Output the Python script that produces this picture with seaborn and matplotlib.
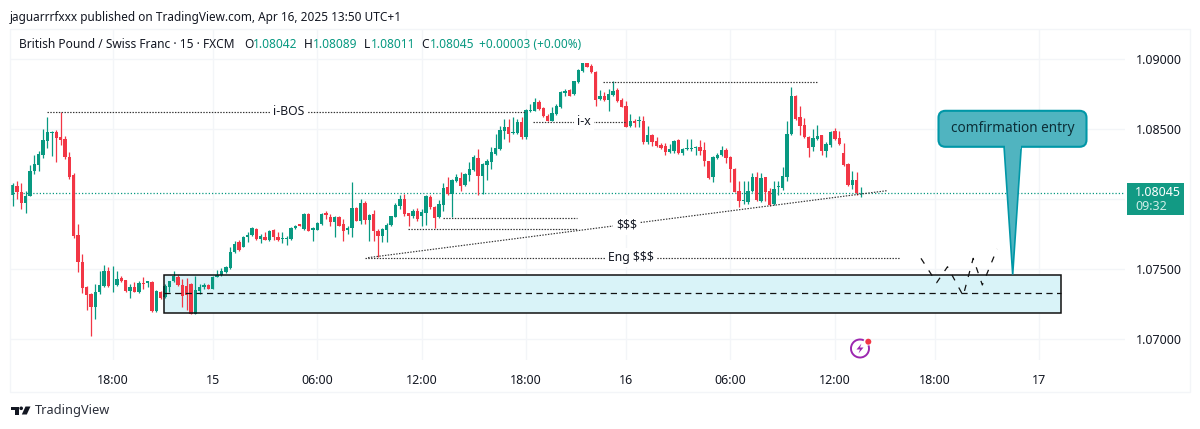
import matplotlib
matplotlib.use("Agg")
import matplotlib.pyplot as plt
from matplotlib.patches import Rectangle, Polygon, FancyBboxPatch, Circle, Arc
import numpy as np
import pandas as pd
import seaborn as sns

# GBP/CHF 15-minute bars, quoted in points above 1.00000
OPEN_PTS = [
    8031,8095,8048,7969,8019,8198,8245,8317,8412,8474,
    8476,8440,8426,8302,8174,7745,7548,7369,7321,7226,
    7333,7379,7483,7390,7388,7433,7421,7340,7374,7333,
    7398,7402,7410,7198,7336,7298,7374,7412,7445,7388,
    7381,7393,7179,7340,7374,7386,7357,7440,7455,7476,
    7507,7619,7690,7660,7726,7745,7786,7714,7731,7707,
    7781,7731,7712,7714,7714,7790,7821,7786,7893,7781,
    7781,7819,7898,7869,7833,7874,7821,7779,7790,7933,
    7845,7969,7852,7893,7774,7738,7781,7814,7874,7952,
    8000,7898,7876,7917,7876,7900,8012,7940,7869,7960,
    8083,8036,8126,8150,8100,8171,8207,8293,8167,8245,
    8267,8321,8357,8488,8512,8469,8471,8548,8440,8626,
    8631,8690,8650,8595,8560,8607,8655,8757,8781,8750,
    8833,8912,8969,8952,8910,8714,8738,8707,8743,8776,
    8707,8664,8521,8560,8557,8560,8405,8457,8417,8388,
    8379,8336,8345,8421,8331,8357,8357,8367,8374,8352,
    8269,8155,8293,8314,8348,8302,8214,8055,7988,7976,
    8055,8160,7983,8155,8059,7964,8083,8076,8155,8464,
    8738,8583,8529,8445,8369,8429,8455,8345,8388,8483,
    8433,8326,8250,8100,8138,8042,
]
CLOSE_PTS = [
    8100,8048,7969,8024,8202,8250,8321,8421,8476,8479,
    8436,8424,8298,8155,7738,7548,7364,7317,7226,7333,
    7388,7483,7381,7393,7429,7417,7340,7374,7338,7402,
    7393,7412,7202,7340,7295,7381,7412,7452,7386,7310,
    7314,7179,7350,7374,7386,7357,7440,7460,7488,7512,
    7624,7679,7638,7731,7745,7793,7714,7733,7707,7774,
    7726,7707,7724,7724,7793,7810,7807,7893,7774,7790,
    7826,7893,7886,7833,7874,7810,7774,7790,7933,7845,
    7969,7850,7888,7769,7733,7786,7817,7876,7957,8000,
    7893,7876,7917,7857,7910,8019,7940,7864,7964,8079,
    8036,8136,8155,8095,8179,8214,8298,8167,8250,8274,
    8333,8364,8493,8517,8464,8481,8548,8440,8636,8638,
    8690,8643,8590,8560,8612,8667,8762,8769,8738,8840,
    8921,8969,8945,8905,8707,8738,8707,8750,8771,8700,
    8660,8517,8560,8545,8562,8405,8457,8410,8379,8364,
    8336,8357,8417,8326,8357,8362,8362,8371,8343,8269,
    8150,8298,8317,8348,8295,8214,8052,7983,7993,8059,
    8155,7993,8150,8048,7960,8071,8091,8162,8464,8738,
    8571,8524,8440,8364,8436,8452,8345,8393,8479,8429,
    8393,8245,8100,8138,8040,8045,
]
HIGH_PTS = [
    8114,8126,8114,8055,8245,8317,8345,8500,8583,8488,
    8493,8619,8452,8333,8183,7821,7607,7381,7326,7393,
    7488,7526,7517,7524,7488,7448,7421,7393,7405,7412,
    7440,7417,7412,7350,7340,7393,7417,7488,7460,7429,
    7436,7398,7452,7393,7398,7393,7450,7493,7507,7524,
    7660,7702,7707,7738,7762,7802,7793,7750,7762,7779,
    7788,7762,7762,7738,7798,7812,7824,7900,7898,7798,
    7833,7898,7917,7893,7876,7879,7857,7809,8119,7940,
    8000,7988,7893,7921,7786,7790,7826,7881,7971,8031,
    8036,7900,7929,7936,7929,8031,8031,7952,7993,8114,
    8160,8143,8179,8190,8183,8262,8317,8357,8255,8286,
    8369,8464,8524,8571,8571,8588,8571,8588,8643,8678,
    8721,8709,8660,8607,8655,8678,8769,8786,8786,8845,
    8929,8971,8971,8964,8912,8781,8767,8786,8843,8795,
    8719,8702,8605,8571,8595,8593,8521,8464,8440,8398,
    8398,8390,8421,8429,8362,8426,8431,8376,8424,8405,
    8274,8305,8329,8379,8367,8307,8221,8126,8131,8131,
    8186,8190,8183,8160,8079,8126,8126,8231,8555,8802,
    8743,8662,8579,8452,8500,8531,8459,8405,8483,8507,
    8488,8398,8257,8202,8190,8089,
]
LOW_PTS = [
    7950,8000,7929,7898,8019,8179,8202,8293,8362,8307,
    8262,8386,8286,8143,7721,7476,7326,7210,7019,7143,
    7321,7369,7374,7333,7379,7405,7333,7290,7333,7326,
    7360,7374,7195,7190,7286,7293,7333,7405,7381,7226,
    7207,7179,7179,7321,7355,7355,7355,7440,7452,7469,
    7500,7614,7631,7655,7690,7738,7707,7683,7707,7702,
    7710,7702,7683,7674,7710,7786,7805,7781,7774,7702,
    7779,7817,7857,7810,7731,7805,7702,7750,7726,7840,
    7821,7821,7702,7702,7583,7690,7695,7810,7869,7929,
    7881,7810,7862,7845,7810,7814,7929,7793,7864,7917,
    8031,7869,8119,8060,8095,8131,8202,8031,8036,8136,
    8214,8314,8352,8426,8405,8464,8464,8429,8429,8619,
    8626,8636,8583,8555,8555,8602,8650,8738,8733,8745,
    8829,8907,8945,8900,8667,8707,8698,8629,8736,8695,
    8655,8512,8517,8512,8517,8395,8395,8379,8374,8355,
    8312,8326,8326,8321,8314,8350,8345,8312,8317,8238,
    8143,8119,8286,8307,8260,8119,8048,7945,7964,7964,
    8048,7983,7976,7983,7952,7960,8031,8067,8131,8459,
    8567,8459,8436,8298,8345,8421,8317,8298,8369,8424,
    8388,8238,8095,8071,8031,8011,
]
TIME_TICK_BARS = [23, 46, 70, 94, 118, 141, 165, 189, 212, 236]
TIME_TICK_LABELS = ["18:00", "15", "06:00", "12:00", "18:00", "16", "06:00", "12:00", "18:00", "17"]
DAY_LABELS = {"15", "16", "17"}
PRICE_TICKS = [1.07000, 1.07500, 1.08000, 1.08500, 1.09000]
PRICE_LABELS = ["1.07000", "1.07500", "", "1.08500", "1.09000"]
LAST_PRICE = 1.08045

# Demand zone and drawn levels
ZONE_BARS = (34.85, 241.0)
ZONE_PRICES = (1.07186, 1.07457)
ZONE_MID = 1.07327
LEVEL_BOS = (7.8, 117.8, 1.08623)
LEVEL_IX = (119.7, 141.0, 1.08550)
LEVEL_TOP = (135.7, 185.1, 1.08838)
LEVEL_LOW_A = (98.9, 129.7, 1.07864)
LEVEL_LOW_B = (90.8, 129.7, 1.07784)
LEVEL_ENG = (81.0, 204.0, 1.07581)
TREND_BARS = [81.7, 200.9]
TREND_PRICES = [1.07581, 1.08059]
PATH_BARS = [208.8, 212.4, 214.9, 218.5, 220.8, 222.9, 226.3]
PATH_PRICES = [1.07576, 1.07402, 1.07516, 1.07309, 1.07576, 1.07386, 1.07643]

GREEN = "#089981"
RED = "#F23645"
GRID = "#f3f5f8"
INK = "#131722"
FONT = "Noto Sans"

sns.set_theme(style="white")
plt.rcParams["font.family"] = [FONT, "DejaVu Sans"]

bars = pd.DataFrame({
    "bar": np.arange(len(OPEN_PTS)),
    "open": 1 + np.array(OPEN_PTS) / 1e5,
    "close": 1 + np.array(CLOSE_PTS) / 1e5,
    "high": 1 + np.array(HIGH_PTS) / 1e5,
    "low": 1 + np.array(LOW_PTS) / 1e5,
})
bars["body_low"] = bars[["open", "close"]].min(axis=1)
bars["body"] = (bars["close"] - bars["open"]).abs()
rising = bars["close"] >= bars["open"]

W, H = 1200, 429
fig = plt.figure(figsize=(W / 100, H / 100), dpi=100, facecolor="white")
ax = fig.add_axes([10 / W, 1 - 360 / H, 1115 / W, 331 / H])
ax.set_facecolor("white")

# Demand zone fill sits under the candles
ax.add_patch(Rectangle((ZONE_BARS[0], ZONE_PRICES[0]), ZONE_BARS[1] - ZONE_BARS[0],
                       ZONE_PRICES[1] - ZONE_PRICES[0], facecolor="#d9f3f8", edgecolor="none", zorder=1))

# Candle wicks and bodies
for frame, colour in ((bars[rising], GREEN), (bars[~rising], RED)):
    ax.vlines(frame["bar"], frame["low"], frame["high"], color=colour, lw=0.9, zorder=2.5)
    sns.barplot(data=frame, x="bar", y="body", bottom=frame["body_low"].to_numpy(), color=colour,
                native_scale=True, width=0.76, errorbar=None, saturation=1, linewidth=0, zorder=3, ax=ax)

ax.set_xlim(-0.62, 255.7)
ax.set_ylim(1.0685, 1.09214)

# Price and time scales
ax.yaxis.tick_right()
ax.set_yticks(PRICE_TICKS, PRICE_LABELS)
ax.set_xticks(TIME_TICK_BARS, TIME_TICK_LABELS)
ax.tick_params(axis="both", length=0, labelsize=9, labelcolor=INK, colors=INK)
ax.tick_params(axis="y", pad=7.5)
ax.tick_params(axis="x", pad=10)
for lab in ax.get_xticklabels():
    if lab.get_text() in DAY_LABELS:
        lab.set_fontweight("bold")
ax.set_xlabel("")
ax.set_ylabel("")
ax.grid(True, color=GRID, lw=1)
ax.set_axisbelow(True)
for side in ax.spines.values():
    side.set_visible(False)

# Last-price line
ax.axhline(LAST_PRICE, color=GREEN, lw=0.9, ls=(0, (1, 1.6)), zorder=2)

# Demand zone outline and midline drawn above the candles
ax.add_patch(Rectangle((ZONE_BARS[0], ZONE_PRICES[0]), ZONE_BARS[1] - ZONE_BARS[0],
                       ZONE_PRICES[1] - ZONE_PRICES[0], facecolor="none", edgecolor="#111111", lw=1.1, zorder=4))
ax.plot(ZONE_BARS, [ZONE_MID, ZONE_MID], color="#111111", lw=0.9, ls=(0, (5, 3.5)), zorder=4)

# Dotted structure levels
dotted = dict(color="#333333", lw=0.85, ls=(0, (1.2, 1.2)), zorder=4)
for start, end, price in (LEVEL_BOS, LEVEL_IX, LEVEL_TOP, LEVEL_LOW_A, LEVEL_LOW_B, LEVEL_ENG):
    ax.plot([start, end], [price, price], **dotted)
ax.plot(TREND_BARS, TREND_PRICES, **dotted)

# Projected price path
ax.plot(PATH_BARS, PATH_PRICES, color="#111111", lw=0.9, ls=(0, (5, 6.5)), zorder=5)

# Level captions interrupt their lines
caption = dict(ha="center", va="center", fontsize=8.8, color=INK, zorder=6,
               bbox=dict(facecolor="white", edgecolor="none", pad=2.2))
ax.text(63.5, LEVEL_BOS[2], "i-BOS", **caption)
ax.text(131.3, LEVEL_IX[2], "i-x", **caption)
ax.text(141.2, 1.07814, "$$$", **caption)
ax.text(142.2, LEVEL_ENG[2], "Eng $$$", **caption)

# Pixel-addressed overlay for the page furniture around the chart
over = fig.add_axes([0, 0, 1, 1], zorder=10)
over.set_xlim(0, W)
over.set_ylim(H, 0)
over.axis("off")
over.patch.set_alpha(0)

over.add_patch(Rectangle((10, 29), 1180, 363, facecolor="none", edgecolor=GRID, lw=1))

over.text(10, 17, "jaguarrrfxxx published on TradingView.com, Apr 16, 2025 13:50 UTC+1",
          fontsize=8.5, color=INK, va="center")

legend_y = 44
over.text(19, legend_y, "British Pound / Swiss Franc · 15 · FXCM", fontsize=8.6, color=INK, va="center")
for x, gap, tag, val in ((244, 9, "O", "1.08042"), (303.5, 9.5, "H", "1.08089"),
                         (363.5, 7, "L", "1.08011"), (421, 8.5, "C", "1.08045")):
    over.text(x, legend_y, tag, fontsize=8.6, color=INK, va="center")
    over.text(x + gap, legend_y, val, fontsize=8.6, color=GREEN, va="center")
over.text(479, legend_y, "+0.00003 (+0.00%)", fontsize=8.5, color=GREEN, va="center")

# Callout pointing into the zone
teal_fill = "#50b4c0"
teal_edge = "#0097a7"
over.add_patch(Polygon([(1004, 146), (1021.3, 146), (1012.7, 274.5)], closed=True,
                       facecolor=teal_fill, edgecolor=teal_edge, lw=1.2))
over.add_patch(FancyBboxPatch((938.5, 110.8), 148, 36, boxstyle="round,pad=0,rounding_size=7",
                              facecolor=teal_fill, edgecolor=teal_edge, lw=1.5))
over.add_patch(Rectangle((1004.8, 144), 15.7, 5, facecolor=teal_fill, edgecolor="none"))
over.text(1012.5, 128, "comfirmation entry", fontsize=9.8, color="#0c2f38", ha="center", va="center")

# Last-price tag
over.add_patch(Rectangle((1126.7, 183.3), 57.3, 31.7, facecolor="#129a84", edgecolor="none"))
over.text(1135, 192, "1.08045", fontsize=9, color="white", fontweight="bold", va="center")
over.text(1135, 206, "09:32", fontsize=9, color="#cfeee8", va="center")

# Lightning badge
over.add_patch(Arc((860, 348.5), 18, 18, theta1=-20, theta2=295, color="#9c27b0", lw=1.4))
over.add_patch(Polygon([(861.5, 343.5), (856.5, 349.5), (860, 349.5), (858.5, 353.5), (863.5, 347.5), (860, 347.5)],
                       closed=True, facecolor="#9c27b0", edgecolor="none"))
over.add_patch(Circle((868.3, 341.7), 3, facecolor="#f23645", edgecolor="none"))

# Brand mark
mark = "#131722"
over.add_patch(Polygon([(11, 406.5), (18.5, 406.5), (18.5, 414.5), (14.8, 414.5), (14.8, 409.7), (11, 409.7)],
                       closed=True, facecolor=mark, edgecolor="none"))
over.add_patch(Circle((21.2, 408.3), 1.8, facecolor=mark, edgecolor="none"))
over.add_patch(Polygon([(25.5, 406.5), (30.5, 406.5), (26.8, 414.5), (21.8, 414.5)],
                       closed=True, facecolor=mark, edgecolor="none"))
over.text(35, 410.5, "TradingView", fontsize=9.2, color="#2a2e39", va="center")

fig.savefig("out.png", dpi=100, facecolor="white")
